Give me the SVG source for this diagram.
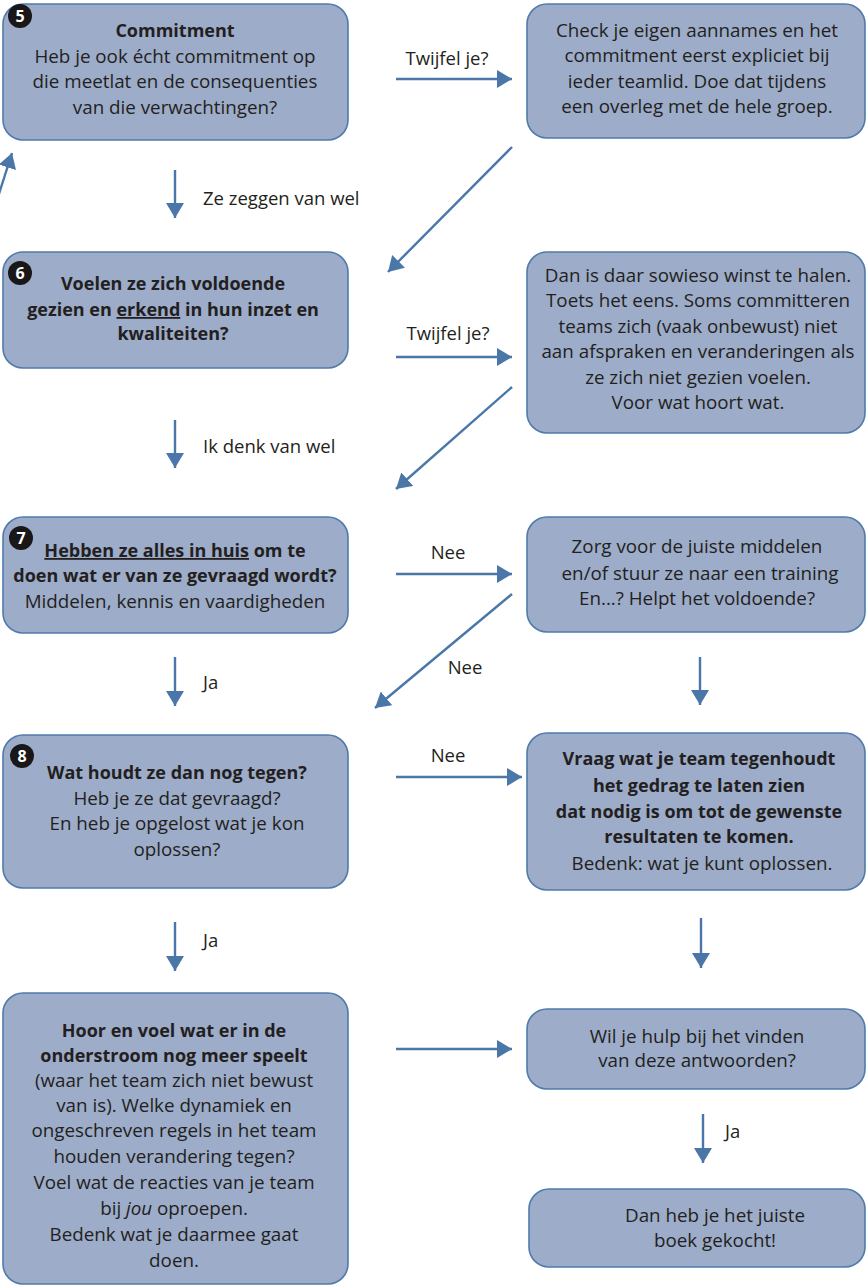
<svg xmlns="http://www.w3.org/2000/svg" width="866" height="1286" viewBox="0 0 866 1286">
<defs>
<marker id="ah" markerUnits="userSpaceOnUse" markerWidth="16" markerHeight="18" refX="15" refY="9" orient="auto">
<path d="M0,0 L15,9 L0,18 z" fill="#4a76a8"/>
</marker>
<style>
.box{fill:#9cacc9;stroke:#4f7bab;stroke-width:1.6}
.t{font-family:"Open Sans","Liberation Sans",sans-serif;font-size:18.8px;fill:#231f20;text-anchor:middle}
.b{font-weight:bold;font-size:18px}
.lab{font-family:"Open Sans","Liberation Sans",sans-serif;font-size:18.5px;fill:#231f20}
.badge{fill:#1a1718}
.bn{font-family:"Open Sans","Liberation Sans",sans-serif;font-size:16px;font-weight:bold;fill:#fff;text-anchor:middle}
.c{stroke:#4a76a8;stroke-width:2.4;fill:none;marker-end:url(#ah)}
</style>
</defs>
<rect width="866" height="1286" fill="#fff"/>

<g id="connectors">
<line class="c" x1="-3" y1="200" x2="12" y2="153"/>
<line class="c" x1="175" y1="170" x2="175" y2="218"/>
<line class="c" x1="396" y1="79" x2="512" y2="79"/>
<line class="c" x1="512" y1="147" x2="388" y2="272"/>
<line class="c" x1="396" y1="357" x2="512" y2="357"/>
<line class="c" x1="512" y1="387" x2="396" y2="489"/>
<line class="c" x1="175" y1="420" x2="175" y2="468"/>
<line class="c" x1="396" y1="574" x2="512" y2="574"/>
<line class="c" x1="512" y1="594" x2="375" y2="708"/>
<line class="c" x1="700" y1="657" x2="700" y2="705"/>
<line class="c" x1="175" y1="657" x2="175" y2="706"/>
<line class="c" x1="396" y1="777" x2="522" y2="777"/>
<line class="c" x1="701" y1="918" x2="701" y2="968"/>
<line class="c" x1="175" y1="922" x2="175" y2="971"/>
<line class="c" x1="396" y1="1049" x2="512" y2="1049"/>
<line class="c" x1="703" y1="1114" x2="703" y2="1163"/>
<text class="lab" x="447" y="65" text-anchor="middle">Twijfel je?</text>
<text class="lab" x="203" y="205">Ze zeggen van wel</text>
<text class="lab" x="448" y="340" text-anchor="middle">Twijfel je?</text>
<text class="lab" x="203" y="453">Ik denk van wel</text>
<text class="lab" x="448" y="559" text-anchor="middle">Nee</text>
<text class="lab" x="465" y="674" text-anchor="middle">Nee</text>
<text class="lab" x="203" y="689">Ja</text>
<text class="lab" x="448" y="762" text-anchor="middle">Nee</text>
<text class="lab" x="203" y="947">Ja</text>
<text class="lab" x="725" y="1138">Ja</text>
</g>

<g id="n5">
<rect class="box" x="3" y="4" width="345" height="136" rx="20"/>
<circle class="badge" cx="20" cy="16" r="12"/>
<text class="bn" x="20" y="21.5">5</text>
<text class="t b" x="175" y="37">Commitment</text>
<text class="t" x="175" y="63">Heb je ook écht commitment op</text>
<text class="t" x="175" y="88">die meetlat en de consequenties</text>
<text class="t" x="175" y="114">van die verwachtingen?</text>
</g>

<g id="r1">
<rect class="box" x="527" y="4" width="338" height="134" rx="20"/>
<text class="t" x="697" y="37">Check je eigen aannames en het</text>
<text class="t" x="697" y="62">commitment eerst expliciet bij</text>
<text class="t" x="697" y="88">ieder teamlid. Doe dat tijdens</text>
<text class="t" x="697" y="113">een overleg met de hele groep.</text>
</g>

<g id="n6">
<rect class="box" x="3" y="252" width="345" height="116" rx="20"/>
<circle class="badge" cx="20" cy="273" r="12"/>
<text class="bn" x="20" y="278.5">6</text>
<text class="t b" x="173" y="290">Voelen ze zich voldoende</text>
<text class="t b" x="173" y="316">gezien en <tspan text-decoration="underline">erkend</tspan> in hun inzet en</text>
<text class="t b" x="173" y="340">kwaliteiten?</text>
</g>

<g id="r2">
<rect class="box" x="527" y="252" width="338" height="181" rx="20"/>
<text class="t" x="698" y="282">Dan is daar sowieso winst te halen.</text>
<text class="t" x="698" y="307">Toets het eens. Soms committeren</text>
<text class="t" x="698" y="333">teams zich (vaak onbewust) niet</text>
<text class="t" x="698" y="358">aan afspraken en veranderingen als</text>
<text class="t" x="698" y="384">ze zich niet gezien voelen.</text>
<text class="t" x="698" y="409">Voor wat hoort wat.</text>
</g>

<g id="n7">
<rect class="box" x="3" y="517" width="345" height="116" rx="20"/>
<circle class="badge" cx="21" cy="538" r="12"/>
<text class="bn" x="21" y="543.5">7</text>
<text class="t b" x="175" y="557"><tspan text-decoration="underline">Hebben ze alles in huis</tspan> om te</text>
<text class="t b" x="175" y="582">doen wat er van ze gevraagd wordt?</text>
<text class="t" x="175" y="608">Middelen, kennis en vaardigheden</text>
</g>

<g id="r3">
<rect class="box" x="527" y="517" width="338" height="115" rx="20"/>
<text class="t" x="697" y="553">Zorg voor de juiste middelen</text>
<text class="t" x="700" y="580">en/of stuur ze naar een training</text>
<text class="t" x="697" y="605">En...? Helpt het voldoende?</text>
</g>

<g id="n8">
<rect class="box" x="3" y="735" width="345" height="153" rx="20"/>
<circle class="badge" cx="22" cy="756" r="12"/>
<text class="bn" x="22" y="761.5">8</text>
<text class="t b" x="177" y="779">Wat houdt ze dan nog tegen?</text>
<text class="t" x="177" y="805">Heb je ze dat gevraagd?</text>
<text class="t" x="177" y="830">En heb je opgelost wat je kon</text>
<text class="t" x="177" y="856">oplossen?</text>
</g>

<g id="r4">
<rect class="box" x="527" y="733" width="338" height="157" rx="20"/>
<text class="t b" x="699" y="765">Vraag wat je team tegenhoudt</text>
<text class="t b" x="699" y="792">het gedrag te laten zien</text>
<text class="t b" x="699" y="818">dat nodig is om tot de gewenste</text>
<text class="t b" x="699" y="843">resultaten te komen.</text>
<text class="t" x="702" y="870">Bedenk: wat je kunt oplossen.</text>
</g>

<g id="n9">
<rect class="box" x="3" y="993" width="345" height="291" rx="20"/>
<text class="t b" x="174" y="1037">Hoor en voel wat er in de</text>
<text class="t b" x="174" y="1062">onderstroom nog meer speelt</text>
<text class="t" x="174" y="1087">(waar het team zich niet bewust</text>
<text class="t" x="174" y="1112">van is). Welke dynamiek en</text>
<text class="t" x="174" y="1137">ongeschreven regels in het team</text>
<text class="t" x="174" y="1163">houden verandering tegen?</text>
<text class="t" x="174" y="1189">Voel wat de reacties van je team</text>
<text class="t" x="174" y="1215">bij <tspan font-style="italic">jou</tspan> oproepen.</text>
<text class="t" x="174" y="1241">Bedenk wat je daarmee gaat</text>
<text class="t" x="174" y="1267">doen.</text>
</g>

<g id="r5">
<rect class="box" x="527" y="1009" width="338" height="80" rx="20"/>
<text class="t" x="697" y="1043">Wil je hulp bij het vinden</text>
<text class="t" x="697" y="1067">van deze antwoorden?</text>
</g>

<g id="r6">
<rect class="box" x="529" y="1189" width="336" height="78" rx="20"/>
<text class="t" x="715" y="1222">Dan heb je het juiste</text>
<text class="t" x="715" y="1247">boek gekocht!</text>
</g>
</svg>
